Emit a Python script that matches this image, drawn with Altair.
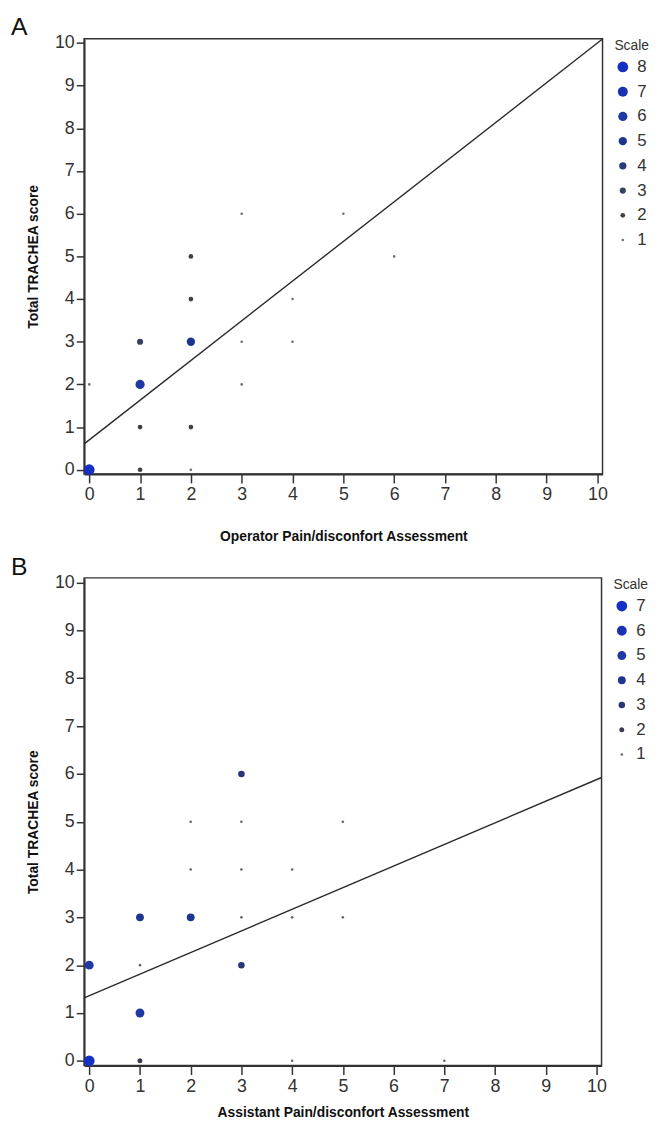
import altair as alt
import pandas as pd

# Panel A: Operator assessment vs TRACHEA score, with count ("Scale")
a_x = [0, 0, 1, 1, 1, 1, 2, 2, 2, 2, 2, 3, 3, 3, 4, 4, 5, 6]
a_y = [0, 2, 0, 1, 2, 3, 0, 1, 3, 4, 5, 2, 3, 6, 3, 4, 6, 5]
a_n = [8, 1, 2, 2, 6, 3, 1, 2, 5, 2, 2, 1, 1, 1, 1, 1, 1, 1]
a_fit = (0.70, 0.93)  # intercept, slope of fit line

# Panel B: Assistant assessment vs TRACHEA score
b_x = [0, 0, 1, 1, 1, 1, 2, 2, 2, 3, 3, 3, 3, 3, 4, 4, 4, 5, 5, 7]
b_y = [0, 2, 0, 1, 2, 3, 3, 4, 5, 2, 3, 4, 5, 6, 0, 3, 4, 3, 5, 0]
b_n = [7, 5, 2, 5, 1, 4, 4, 1, 1, 3, 1, 1, 1, 3, 1, 1, 1, 1, 1, 1]
b_fit = (1.36, 0.452)

ticks = list(range(0, 11))
dom = [-0.1, 10.1]

a_levels = [8, 7, 6, 5, 4, 3, 2, 1]
a_colors = ["#1630c4", "#1a32b0", "#1f3aa2", "#1e3590", "#2a3a80", "#3a4064", "#404044", "#6f6f6f"]

b_levels = [7, 6, 5, 4, 3, 2, 1]
b_colors = ["#1630c4", "#1a32b0", "#1f3aa2", "#1e3590", "#2a3478", "#3a3d50", "#666666"]


def panel(label, xs, ys, ns, fit, levels, colors, xtitle, w, h, tpad):
    pts = pd.DataFrame({"x": xs, "y": ys, "n": ns})
    a, b = fit
    line = pd.DataFrame({"x": dom, "y": [a + b * v for v in dom]})
    xsc = alt.Scale(domain=dom, nice=False, zero=False)
    ysc = alt.Scale(domain=dom, nice=False, zero=False)
    xax = alt.Axis(values=ticks, title=xtitle, grid=False, tickSize=9, labelPadding=3,
                   titlePadding=tpad)
    yax = alt.Axis(values=ticks, title="Total TRACHEA score", grid=False, tickSize=8,
                   labelPadding=2, titlePadding=14)
    fitline = alt.Chart(line).mark_line(color="#2a2a2a", strokeWidth=1.4).encode(
        x=alt.X("x:Q", scale=xsc, axis=xax),
        y=alt.Y("y:Q", scale=ysc, axis=yax),
    )
    dots = alt.Chart(pts).mark_circle(opacity=1, clip=False).encode(
        x=alt.X("x:Q", scale=xsc),
        y=alt.Y("y:Q", scale=ysc),
        size=alt.Size("n:O", scale=alt.Scale(type="point", domain=levels, range=[118, 7]),
                      legend=alt.Legend(title="Scale")),
        color=alt.Color("n:O", scale=alt.Scale(domain=levels, range=colors),
                        legend=alt.Legend(title="Scale")),
    )
    return alt.layer(fitline, dots).properties(
        width=w, height=h,
        title=alt.Title(label, anchor="start", fontSize=25, fontWeight="normal",
                        dx=-16, offset=-6, color="#111"),
    )


pa = panel("A", a_x, a_y, a_n, a_fit, a_levels, a_colors,
           "Operator Pain/disconfort Assessment", 524, 440, 26)
pb = panel("B", b_x, b_y, b_n, b_fit, b_levels, b_colors,
           "Assistant Pain/disconfort Assessment", 523, 493, 10)

chart = alt.vconcat(pa, pb, spacing=10).resolve_scale(
    color="independent", size="independent"
).resolve_legend(color="independent", size="independent").properties(
    padding={"left": 2, "top": 0, "right": 0, "bottom": 0}
).configure(
    font="Liberation Sans"
).configure_view(
    stroke="#333333", strokeWidth=1.5
).configure_axis(
    domainColor="#333333", domainWidth=1.8, tickColor="#333333", tickWidth=1.5,
    labelFontSize=18, labelColor="#333333", titleFontSize=14, titleFontWeight="bold",
    titleColor="#111111", labelFont="Liberation Sans", titleFont="Liberation Sans",
).configure_legend(
    orient="right", offset=12, titleFontSize=14, titleFontWeight="normal",
    titleColor="#333333", labelFontSize=17, labelColor="#333333", rowPadding=7,
    labelOffset=6, symbolStrokeWidth=0, titlePadding=6,
)

chart.save("out.html", embed_options={"renderer": "svg", "actions": False})
